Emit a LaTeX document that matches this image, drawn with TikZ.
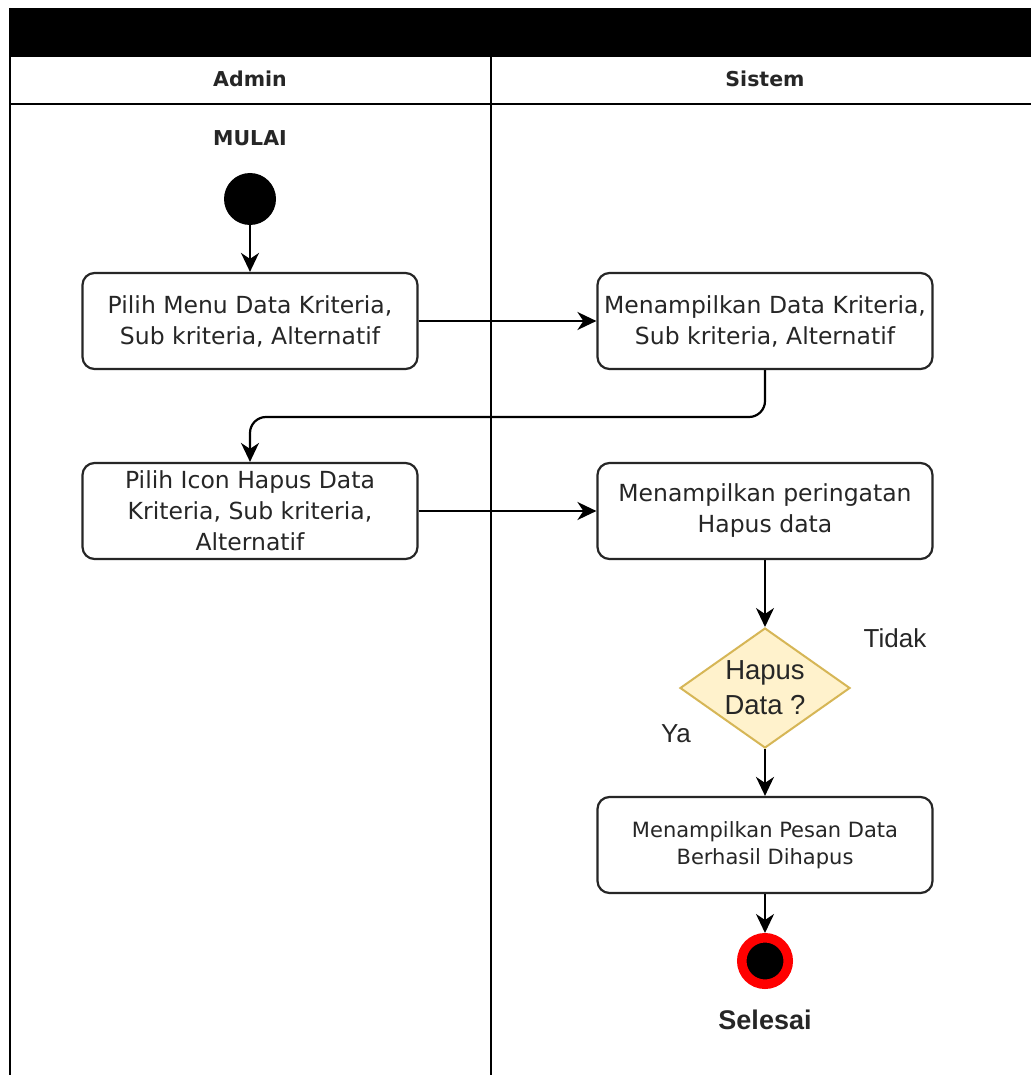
\documentclass[tikz,border=0pt]{standalone}
\usepackage{fontspec}
\setmainfont{DejaVu Sans}
\newfontfamily\arialfont{Liberation Sans}
\usetikzlibrary{arrows.meta,shapes.geometric}

\definecolor{decfill}{HTML}{FFF2CC}
\definecolor{decline}{HTML}{D6B656}
\definecolor{txt}{HTML}{262626}

\tikzset{
  lane/.style={line width=2.2pt, draw=black},
  action/.style={draw=black!85, line width=2.2pt, rounded corners=12pt, fill=white,
    minimum width=335pt, minimum height=96pt, align=center, text=txt,
    font=\fontsize{23.5}{31}\selectfont, inner sep=2pt},
  flow/.style={line width=2.2pt, -{Stealth[length=19pt,width=18pt,inset=6pt]}},
  decision/.style={diamond, draw=decline, fill=decfill, line width=2pt,
    minimum width=170pt, minimum height=120pt, inner sep=0pt, aspect=1.4,
    align=center, text=txt, font=\arialfont\fontsize{27.5}{35}\selectfont},
  guard/.style={text=txt, font=\arialfont\fontsize{26}{30}\selectfont},
  lanehead/.style={text=txt, font=\bfseries\fontsize{20.5}{24}\selectfont},
}

\begin{document}
\begin{tikzpicture}[x=1pt,y=-1pt]
\useasboundingbox (0,0) rectangle (1031,1075);
\fill[white] (0,0) rectangle (1031,1075);

% swimlane frame
\fill[black] (10,8) rectangle (1031,57);
\draw[lane] (10,8) -- (10,1075);
\draw[lane] (10,104) -- (1031,104);
\draw[lane] (491,57) -- (491,1075);
\node[lanehead] (hadmin) at (250,79) {Admin};
\node[lanehead] (hsistem) at (765,79) {Sistem};

% start
\node[lanehead] (mulai) at (250,138) {MULAI};
\node[circle, fill=black, minimum size=52pt, inner sep=0pt] (start) at (250,199) {};

% actions
\node[action] (a1) at (250,321) {Pilih Menu Data Kriteria,\\Sub kriteria, Alternatif};
\node[action] (s1) at (765,321) {Menampilkan Data Kriteria,\\Sub kriteria, Alternatif};
\node[action] (a2) at (250,511) {Pilih Icon Hapus Data\\Kriteria, Sub kriteria,\\Alternatif};
\node[action] (s2) at (765,511) {Menampilkan peringatan\\Hapus data};
\node[decision] (d1) at (765,688) {Hapus\\Data ?};
\node[action, font=\fontsize{21}{27}\selectfont] (s3) at (765,845) {Menampilkan Pesan Data\\Berhasil Dihapus};

% end
\node[circle, draw=red, line width=9.5pt, fill=black, minimum size=46.5pt, inner sep=0pt] (stop) at (765,961) {};
\node[font=\arialfont\bfseries\fontsize{27}{30}\selectfont, text=txt] (selesai) at (765,1020) {Selesai};

% guards
\node[guard] (tidak) at (895,638) {Tidak};
\node[guard] (ya) at (676,734) {Ya};

% flows
\draw[flow] (start) -- (a1);
\draw[flow] (a1) -- (s1);
\draw[flow, rounded corners=16pt] (s1.south) -- (765,417) -- (250,417) -- (a2.north);
\draw[flow] (a2) -- (s2);
\draw[flow] (s2) -- (d1);
\draw[flow] (d1) -- (s3);
\draw[flow] (s3.south) -- (stop.north);
\end{tikzpicture}
\end{document}
